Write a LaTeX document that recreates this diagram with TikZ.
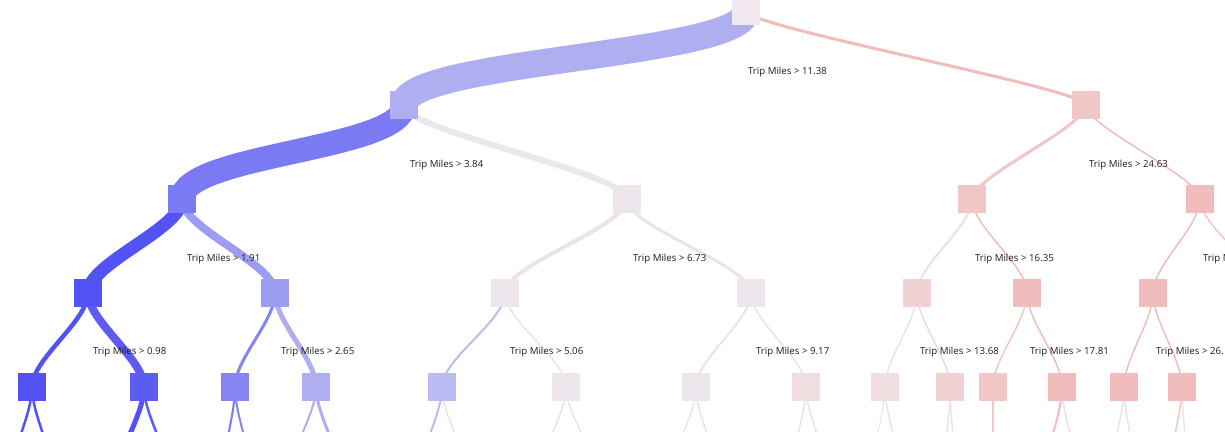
\documentclass[tikz,border=0pt]{standalone}
\usepackage{fontspec}
\setmainfont{Open Sans}
\pgfdeclarelayer{back}
\pgfdeclarelayer{bg}
\pgfsetlayers{back,bg,main}
\definecolor{blueA}{HTML}{5252F5}
\definecolor{blueA2}{HTML}{5C5CF3}
\definecolor{blueB}{HTML}{7A7AF5}
\definecolor{blueB2}{HTML}{8585F2}
\definecolor{blueC}{HTML}{9C9CF3}
\definecolor{blueD}{HTML}{AEAEF0}
\definecolor{blueE}{HTML}{BCBCF5}
\definecolor{grayP}{HTML}{EDE6EC}
\definecolor{grayQ}{HTML}{EBE3E8}
\definecolor{pinkA}{HTML}{F0BCBC}
\definecolor{pinkB}{HTML}{F0C6C6}
\definecolor{pinkC}{HTML}{F0D2D4}
\definecolor{pinkD}{HTML}{F1DEE1}
\definecolor{rootc}{HTML}{F1E9EF}
\definecolor{txt}{HTML}{1E1E1E}
\tikzset{
  tn/.style={fill=#1, draw=none, minimum size=28pt, inner sep=0pt, outer sep=0pt},
  lbl/.style={anchor=base west, inner sep=0pt, outer sep=0pt, text=txt, font=\fontsize{9.7}{11}\selectfont},
}
% \tedge[bend k]{from}{to}{width}{colour}
\newcommand\tedge[5][28]{\draw[line width=#4pt, draw=#5, line cap=butt] (#2.center) .. controls +(0,#1) and +(0,-#1) .. (#3.center);}
\begin{document}
\begin{tikzpicture}[x=1pt,y=-1pt]
\path[use as bounding box] (0,0) rectangle (1225,431);
\begin{pgfonlayer}{back}
\fill[white] (0,0) rectangle (1225,431);
\end{pgfonlayer}
% level 0
\node[tn=rootc] (n0) at (746,11) {};
% level 1
\node[tn=blueD] (n1a) at (404,105) {};
\node[tn=pinkB] (n1b) at (1086,105) {};
% level 2
\node[tn=blueB] (n2a) at (182,199) {};
\node[tn=grayP] (n2b) at (627,199) {};
\node[tn=pinkB] (n2c) at (972,199) {};
\node[tn=pinkA] (n2d) at (1200,199) {};
% level 3
\node[tn=blueA] (n3a) at (88,293) {};
\node[tn=blueC] (n3b) at (275,293) {};
\node[tn=grayP] (n3c) at (505,293) {};
\node[tn=grayP] (n3d) at (751,293) {};
\node[tn=pinkC] (n3e) at (917,293) {};
\node[tn=pinkA] (n3f) at (1027,293) {};
\node[tn=pinkA] (n3g) at (1153,293) {};
\coordinate (c3h) at (1262,293);
% level 4
\node[tn=blueA] (n4a) at (32,387) {};
\node[tn=blueA2] (n4b) at (144,387) {};
\node[tn=blueB2] (n4c) at (235,387) {};
\node[tn=blueD] (n4d) at (316,387) {};
\node[tn=blueE] (n4e) at (442,387) {};
\node[tn=grayP] (n4f) at (566,387) {};
\node[tn=grayP] (n4g) at (696,387) {};
\node[tn=pinkD] (n4h) at (806,387) {};
\node[tn=pinkD] (n4i) at (885,387) {};
\node[tn=pinkC] (n4j) at (950,387) {};
\node[tn=pinkB] (n4k) at (993,387) {};
\node[tn=pinkA] (n4l) at (1062,387) {};
\node[tn=pinkA] (n4m) at (1124,387) {};
\node[tn=pinkA] (n4n) at (1182,387) {};
% level 5 (off picture)
\coordinate (c5a) at (10,481);   \coordinate (c5b) at (54,481);
\coordinate (c5c) at (116,481);  \coordinate (c5d) at (170,481);
\coordinate (c5e) at (222,481);  \coordinate (c5f) at (252,481);
\coordinate (c5g) at (288,481);  \coordinate (c5h) at (342,481);
\coordinate (c5i) at (418,481);  \coordinate (c5j) at (468,481);
\coordinate (c5k) at (538,481);  \coordinate (c5l) at (598,481);
\coordinate (c5m) at (670,481);  \coordinate (c5n) at (718,481);
\coordinate (c5o) at (790,481);  \coordinate (c5p) at (828,481);
\coordinate (c5q) at (870,481);  \coordinate (c5r) at (901,481);
\coordinate (c5s) at (944,481);  \coordinate (c5t) at (956,481);
\coordinate (c5u) at (993,481);
\coordinate (c5v) at (1044,481); \coordinate (c5w) at (1078,481);
\coordinate (c5x) at (1110,481); \coordinate (c5y) at (1136,481);
\coordinate (c5z) at (1168,481); \coordinate (c5zz) at (1188,481);
% edges
\begin{pgfonlayer}{bg}
\tedge[45]{n0}{n1a}{27}{blueD}
\tedge[16]{n0}{n1b}{3}{pinkA}
\tedge[45]{n1a}{n2a}{24}{blueB}
\tedge[26]{n1a}{n2b}{6}{grayP}
\tedge[22]{n1b}{n2c}{3}{pinkB}
\tedge[22]{n1b}{n2d}{1.5}{pinkA}
\tedge[30]{n2a}{n3a}{13}{blueA}
\tedge[30]{n2a}{n3b}{8}{blueC}
\tedge{n2b}{n3c}{4}{grayQ}
\tedge{n2b}{n3d}{3}{grayQ}
\tedge{n2c}{n3e}{2}{pinkD}
\tedge{n2c}{n3f}{1.5}{pinkA}
\tedge{n2d}{n3g}{1.5}{pinkA}
\tedge{n2d}{c3h}{1.2}{pinkA}
\tedge{n3a}{n4a}{4.5}{blueA}
\tedge{n3a}{n4b}{8}{blueA2}
\tedge{n3b}{n4c}{3}{blueB2}
\tedge{n3b}{n4d}{5}{blueD}
\tedge{n3c}{n4e}{2}{blueE}
\tedge{n3c}{n4f}{1.5}{grayQ}
\tedge{n3d}{n4g}{2}{grayQ}
\tedge{n3d}{n4h}{1.5}{grayQ}
\tedge{n3e}{n4i}{1.5}{grayQ}
\tedge{n3e}{n4j}{1.2}{pinkC}
\tedge{n3f}{n4k}{1.5}{pinkB}
\tedge{n3f}{n4l}{1.5}{pinkA}
\tedge{n3g}{n4m}{1.5}{pinkA}
\tedge{n3g}{n4n}{1.5}{pinkA}
\tedge{n4a}{c5a}{2.5}{blueA}
\tedge{n4a}{c5b}{2.5}{blueA}
\tedge{n4b}{c5c}{5}{blueA}
\tedge{n4b}{c5d}{2.5}{blueA2}
\tedge{n4c}{c5e}{2}{blueB}
\tedge{n4c}{c5f}{2}{blueB2}
\tedge{n4d}{c5g}{2}{blueD}
\tedge{n4d}{c5h}{3}{blueD}
\tedge{n4e}{c5i}{2}{blueE}
\tedge{n4e}{c5j}{1.5}{grayQ}
\tedge{n4f}{c5k}{1.5}{grayQ}
\tedge{n4f}{c5l}{1.5}{grayQ}
\tedge{n4g}{c5m}{1.5}{grayQ}
\tedge{n4g}{c5n}{1.5}{grayQ}
\tedge{n4h}{c5o}{1.5}{grayQ}
\tedge{n4h}{c5p}{1.5}{grayQ}
\tedge{n4i}{c5q}{1}{grayQ}
\tedge{n4i}{c5r}{1.5}{grayQ}
\tedge{n4j}{c5s}{1.5}{grayQ}
\tedge{n4j}{c5t}{1.5}{grayQ}
\tedge{n4k}{c5u}{1.5}{pinkB}
\tedge{n4l}{c5v}{2}{pinkA}
\tedge{n4l}{c5w}{1.5}{grayQ}
\tedge{n4m}{c5x}{1.5}{grayQ}
\tedge{n4m}{c5y}{1.5}{grayQ}
\tedge{n4n}{c5z}{1.5}{pinkB}
\tedge{n4n}{c5zz}{1.5}{grayQ}
\end{pgfonlayer}
% labels
\node[lbl] (l0) at (748,74) {Trip Miles > 11.38};
\node[lbl] (l1a) at (410,167) {Trip Miles > 3.84};
\node[lbl] (l1b) at (1089,167) {Trip Miles > 24.63};
\node[lbl] (l2a) at (187,261) {Trip Miles > 1.91};
\node[lbl] (l2b) at (633,261) {Trip Miles > 6.73};
\node[lbl] (l2c) at (975,261) {Trip Miles > 16.35};
\node[lbl] (l2d) at (1203,261) {Trip Miles};
\node[lbl] (l3a) at (93,354) {Trip Miles > 0.98};
\node[lbl] (l3b) at (281,354) {Trip Miles > 2.65};
\node[lbl] (l3c) at (510,354) {Trip Miles > 5.06};
\node[lbl] (l3d) at (756,354) {Trip Miles > 9.17};
\node[lbl] (l3e) at (920,354) {Trip Miles > 13.68};
\node[lbl] (l3f) at (1030,354) {Trip Miles > 17.81};
\node[lbl] (l3g) at (1156,354) {Trip Miles > 26.};
\end{tikzpicture}
\end{document}
